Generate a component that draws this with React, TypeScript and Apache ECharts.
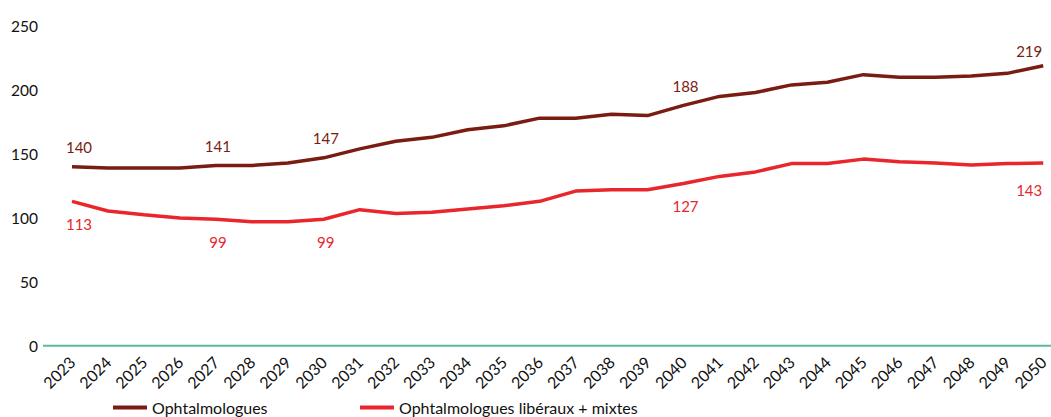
import React, { useEffect, useRef } from "react";
import * as echarts from "echarts";

const years = [
  "2023", "2024", "2025", "2026", "2027", "2028", "2029", "2030", "2031", "2032",
  "2033", "2034", "2035", "2036", "2037", "2038", "2039", "2040", "2041", "2042",
  "2043", "2044", "2045", "2046", "2047", "2048", "2049", "2050",
];

const ophtalmologues = [
  140, 139, 139, 139, 141, 141, 143, 147, 154, 160,
  163, 169, 172, 178, 178, 181, 180, 188, 195, 198,
  204, 206, 212, 210, 210, 211, 213, 219,
];

const liberauxMixtes = [
  113, 105.5, 102.5, 100, 99, 97, 97, 99, 106.5, 103.5,
  104.5, 107, 109.5, 113, 121, 122, 122, 127, 132.5, 136,
  142.5, 142.5, 146, 144, 143, 141.5, 142.5, 143,
];

const labeledYears = ["2023", "2027", "2030", "2040", "2050"];
const yTicks = [0, 50, 100, 150, 200, 250];

const seriesNames = ["Ophtalmologues", "Ophtalmologues libéraux + mixtes"];

const DARK = "#7a1c12";
const RED = "#e8262b";
const FONT = "Lato";

function buildData(values: number[], color: string, pos: "top" | "bottom") {
  return values.map((v, i) => {
    const y = years[i];
    if (!labeledYears.includes(y)) return v;
    const first = i === 0;
    const last = i === values.length - 1;
    const dx = first ? 7 : last ? -14 : 2;
    const dy = last ? 5 : 0;
    return {
      value: v,
      label: {
        show: true,
        position: pos,
        distance: pos === "top" ? 12 : 15,
        offset: [dx, dy],
        color,
        fontFamily: FONT,
        fontSize: 15,
        formatter: (p: any) => String(Math.round(p.value)),
      },
    };
  });
}

export default function App() {
  const ref = useRef<HTMLDivElement>(null);
  useEffect(() => {
    if (!ref.current) return;
    const chart = echarts.init(ref.current, undefined, { renderer: "svg" });
    const legendBase = {
      top: 399,
      padding: 0,
      icon: "rect",
      itemWidth: 34,
      itemHeight: 4,
      itemGap: 3,
      textStyle: { fontFamily: FONT, fontSize: 16, color: "#111", lineHeight: 17 },
    };
    const option: any = {
      animation: false,
      backgroundColor: "#ffffff",
      grid: { left: 72, right: 0, top: 26, bottom: 71, containLabel: false },
      legend: [
        { ...legendBase, left: 113, data: [seriesNames[0]] },
        { ...legendBase, left: 360, data: [seriesNames[1]] },
      ],
      xAxis: {
        type: "category",
        data: years,
        boundaryGap: false,
        axisLine: { show: false },
        axisTick: { show: false },
        axisLabel: {
          rotate: 45,
          margin: 13,
          interval: 0,
          fontFamily: FONT,
          fontSize: 16,
          color: "#111",
        },
        splitLine: { show: false },
      },
      yAxis: {
        type: "value",
        min: yTicks[0],
        max: yTicks[yTicks.length - 1],
        interval: yTicks[1] - yTicks[0],
        axisLine: { show: false },
        axisTick: { show: false },
        splitLine: { show: false },
        axisLabel: {
          margin: 34,
          fontFamily: FONT,
          fontSize: 15.5,
          color: "#111",
        },
      },
      graphic: [
        {
          type: "line",
          z: 1,
          shape: { x1: 43, y1: 345.7, x2: 1051, y2: 345.7 },
          style: { stroke: "#5db9a1", lineWidth: 2 },
        },
      ],
      series: [
        {
          name: seriesNames[0],
          type: "line",
          data: buildData(ophtalmologues, DARK, "top"),
          symbol: "circle",
          symbolSize: 0,
          showSymbol: true,
          lineStyle: { color: DARK, width: 3.5 },
          itemStyle: { color: DARK },
          z: 3,
        },
        {
          name: seriesNames[1],
          type: "line",
          data: buildData(liberauxMixtes, RED, "bottom"),
          symbol: "circle",
          symbolSize: 0,
          showSymbol: true,
          lineStyle: { color: RED, width: 3.5 },
          itemStyle: { color: RED },
          z: 3,
        },
      ],
    };
    chart.setOption(option);
    return () => chart.dispose();
  }, []);
  return (
    <div
      ref={ref}
      style={{ position: "fixed", left: 0, top: 0, width: 1051, height: 417, background: "#fff" }}
    />
  );
}
